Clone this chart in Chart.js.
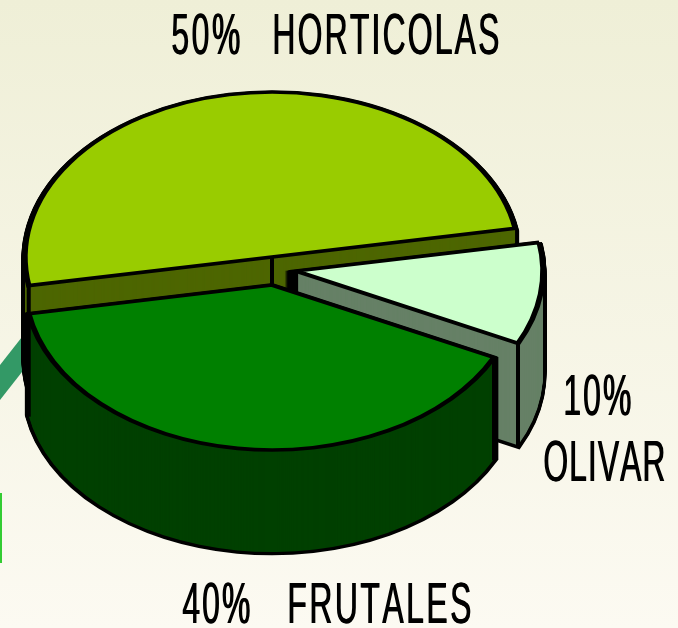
<!DOCTYPE html>
<html>
<head>
<meta charset="utf-8">
<script src="https://cdn.jsdelivr.net/npm/chart.js"></script>
<title>Cultivos</title>
<style>
	body { margin: 0; overflow: hidden; background: #F6F5E6; }
	.chart { width: 678px; height: 628px; position: relative; }
</style>
</head>
<body>

<div class="chart"><canvas id="chart1"></canvas></div>

<script>

// datos
var cultivos = ['HORTICOLAS', 'OLIVAR', 'FRUTALES'];
var porcentajes = [50, 10, 40];

// colores: cara superior y pared lateral
var colorTop = ['#99CC00', '#CCFFCC', '#008000'];
var colorSide = ['#4D6600', '#668066', '#004000'];

// efecto 3D
var explode = [[0, 0], [24, 14], [0, 28]]; // desplazamiento de cada porcion (px)
var depth = 103;          // altura del cilindro
var tilt = 165 / 247;     // aplastamiento vertical

// etiquetas: [x, linea base, ancho] del porcentaje y del nombre
var labelPct = [[171, 54, 70], [563, 415, 69], [182, 623, 69]];
var labelName = [[272, 54, 228], [543, 481, 123], [287, 623, 185]];


// fondo de la diapositiva
var fondo = {
	id: 'fondo',
	beforeDraw: function(chart) {
		var ctx = chart.ctx;
		var g = ctx.createLinearGradient(0, 0, 0, chart.height);
		g.addColorStop(0, '#EFEFD7');
		g.addColorStop(1, '#FCFAF2');
		ctx.save();
		ctx.fillStyle = g;
		ctx.fillRect(0, 0, chart.width, chart.height);
		// adornos a la izquierda
		ctx.fillStyle = '#339966';
		ctx.beginPath();
		ctx.moveTo(0, 365); ctx.lineTo(40, 314); ctx.lineTo(40, 349); ctx.lineTo(0, 400);
		ctx.closePath();
		ctx.fill();
		ctx.fillStyle = '#33CC33';
		ctx.fillRect(0, 493, 2, 70);
		ctx.restore();
	}
};


// dibuja una porcion desplazada y aplastada
function drawArc(ctx, arc, i, d, opts) {
	var keep = arc.options;
	ctx.save();
	ctx.translate(explode[i][0], explode[i][1] + d);
	ctx.translate(arc.x, arc.y);
	ctx.scale(1, tilt);
	ctx.translate(-arc.x, -arc.y);
	arc.options = opts;
	arc.draw(ctx);
	arc.options = keep;
	ctx.restore();
}

// arista vertical de la pared
function edge(ctx, arc, i, angle, r) {
	var x = arc.x + explode[i][0] + Math.cos(angle) * r;
	var y = arc.y + explode[i][1] + Math.sin(angle) * r * tilt;
	ctx.save();
	ctx.strokeStyle = '#000';
	ctx.lineWidth = 4;
	ctx.beginPath();
	ctx.moveTo(x, y);
	ctx.lineTo(x, y + depth);
	ctx.stroke();
	ctx.restore();
}

var pie3d = {
	id: 'pie3d',
	beforeDatasetsDraw: function(chart) {
		var ctx = chart.ctx;
		var arcs = chart.getDatasetMeta(0).data;

		arcs.forEach(function(arc, i) {
			var top = arc.options;
			var black = Object.assign({}, top, {backgroundColor: '#000', borderColor: '#000', borderWidth: 7});
			var side = Object.assign({}, top, {backgroundColor: colorSide[i], borderWidth: 0});

			for (var d = depth; d >= 1; d--) drawArc(ctx, arc, i, d, black);
			for (var d = depth - 1; d >= 1; d--) drawArc(ctx, arc, i, d, side);

			// aristas visibles
			edge(ctx, arc, i, 0, 0);
			if (Math.sin(arc.startAngle) > 0) edge(ctx, arc, i, arc.startAngle, arc.outerRadius);
			if (Math.sin(arc.endAngle) > 0) edge(ctx, arc, i, arc.endAngle, arc.outerRadius);

			drawArc(ctx, arc, i, 0, top);
		});
		return false;
	}
};


// textos: letra estrecha y espaciada, letra por letra
var sx = 0.56;
function texto(ctx, s, p) {
	var chars = s.split('');
	var ws = chars.map(function(c) { return ctx.measureText(c).width * sx; });
	var total = ws.reduce(function(a, b) { return a + b; }, 0);
	var gap = chars.length > 1 ? (p[2] - 1 - total) / (chars.length - 1) : 0;
	var x = p[0];
	chars.forEach(function(c, j) {
		for (var k = 0; k <= 1; k++) {
			ctx.save();
			ctx.translate(x + k * 0.8, p[1]);
			ctx.scale(sx, 1);
			ctx.fillText(c, 0, 0);
			ctx.restore();
		}
		x += ws[j] + gap;
	});
}

var etiquetas = {
	id: 'etiquetas',
	afterDraw: function(chart) {
		var ctx = chart.ctx;
		ctx.save();
		ctx.font = '57px "Liberation Sans", Arial, sans-serif';
		ctx.fillStyle = '#000';
		ctx.textAlign = 'left';
		ctx.textBaseline = 'alphabetic';
		for (var i = 0; i < cultivos.length; i++) {
			texto(ctx, porcentajes[i] + '%', labelPct[i]);
			texto(ctx, cultivos[i], labelName[i]);
		}
		ctx.restore();
	}
};


var ctx = document.getElementById('chart1').getContext('2d');

var chart1 = new Chart(ctx, {
	type: 'pie',
	data: {
		labels: cultivos,
		datasets: [{
			data: porcentajes,
			backgroundColor: colorTop,
			borderColor: '#000',
			borderWidth: 5.5,
			borderJoinStyle: 'miter'
		}]
	},
	options: {
		responsive: true,
		maintainAspectRatio: false,
		animation: false,
		events: [],
		rotation: 260,
		radius: 247,
		layout: { padding: { left: 0, right: 134, top: 0, bottom: 114 } },
		plugins: {
			legend: { display: false },
			tooltip: { enabled: false }
		}
	},
	plugins: [fondo, pie3d, etiquetas]
});

</script>
</body>
</html>
